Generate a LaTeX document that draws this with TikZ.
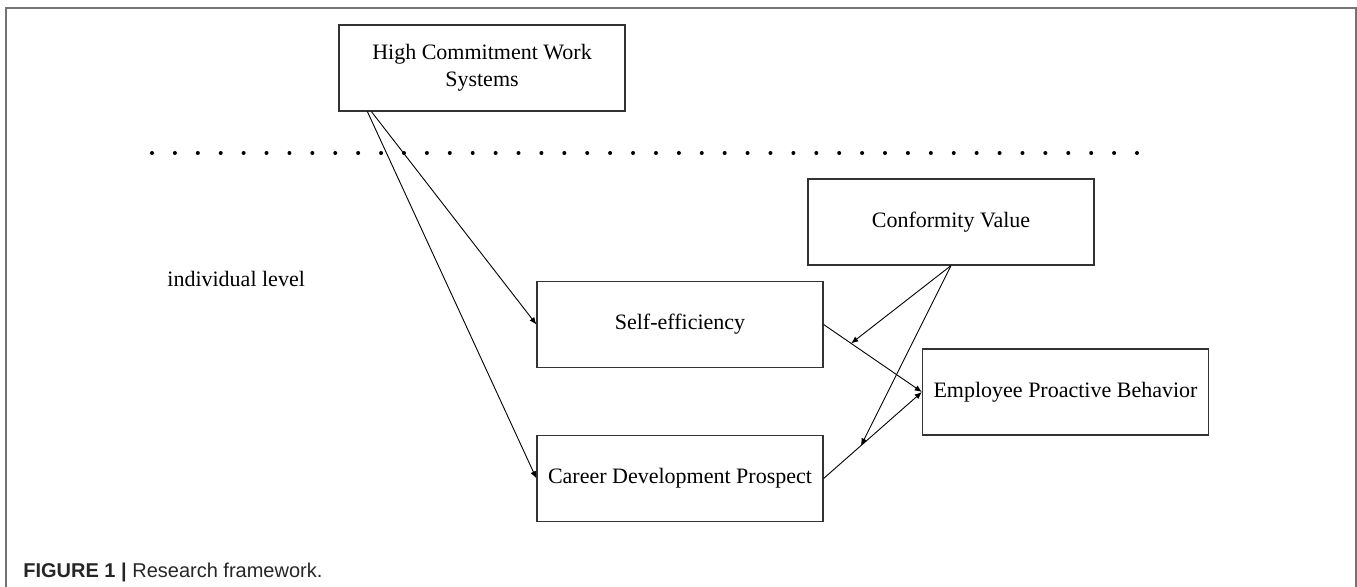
\documentclass[tikz,border=0pt]{standalone}
\usepackage{fontspec}
\setmainfont{Liberation Serif}
\setsansfont{Liberation Sans}
\usetikzlibrary{arrows.meta,calc}

\tikzset{
  box/.style={draw=black!80, line width=0.6pt, rectangle, inner sep=0pt,
    minimum width=143pt, minimum height=43pt, align=center,
    font=\fontsize{11}{13.5}\selectfont},
  conn/.style={draw=black, line width=0.45pt,
    -{Latex[length=3.6pt,width=3pt]}},
  frameline/.style={draw=black!55, line width=0.75pt},
  plain/.style={font=\fontsize{11}{13.5}\selectfont, inner sep=0pt},
}

\begin{document}
\begin{tikzpicture}[x=0.5pt,y=-0.5pt]
\useasboundingbox (0,0) rectangle (1357,587);

% outer frame, open at the bottom
\draw[frameline] (6,592) -- (6,8) -- (1356,8) -- (1356,592);

% dotted separator between the levels
\foreach \i in {0,...,43}
  \fill[black] ({152+22.907*\i},153) circle[radius=1pt];

% constructs
\node[box] (hcws) at (482,68) {High Commitment Work\\Systems};
\node[box] (conf) at (951,222) {Conformity Value};
\node[box] (se)   at (680,324.5) {Self-efficiency};
\node[box] (epb)  at (1065.5,392) {Employee Proactive Behavior};
\node[box] (cdp)  at (680,478.5) {Career Development Prospect};

\node[plain, anchor=base west] (lvl) at (167,287) {individual level};

% main paths
\draw[conn] ($(hcws.south west)+(29,0)$) -- (cdp.west);
\draw[conn] ($(hcws.south west)+(33,0)$) -- (se.west);
\draw[conn] (se.east) -- (epb.west);
\draw[conn] (cdp.east) -- (epb.west);

% moderation by conformity value
\coordinate (modA) at ($(se.east)!0.28!(epb.west)$);
\coordinate (modB) at ($(cdp.east)!0.38!(epb.west)$);
\draw[conn] (conf.south) -- (modA);
\draw[conn] (conf.south) -- (modB);

% caption
\node[anchor=base west, inner sep=0pt, text=black!85,
  font=\fontsize{10}{12}\selectfont\sffamily] (cap) at (23,578)
  {\textbf{FIGURE 1 |} Research framework.};
\end{tikzpicture}
\end{document}
